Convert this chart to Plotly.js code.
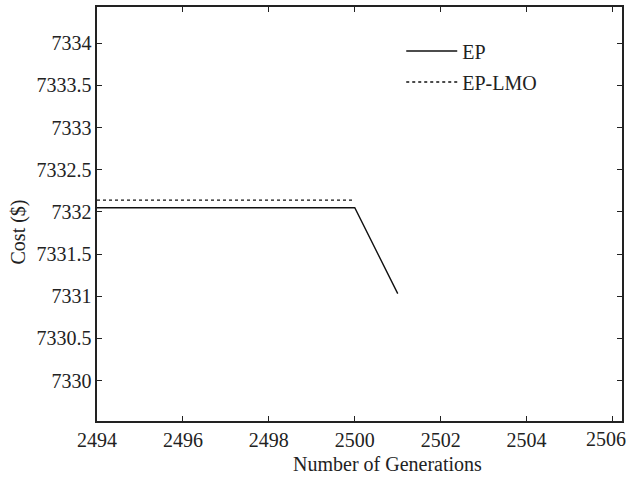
<!DOCTYPE html>
<html>
<head>
<meta charset="utf-8">
<script src="https://cdn.plot.ly/plotly-3.0.1.min.js"></script>
<style>html,body{margin:0;padding:0;background:#fff;}#chart{width:626px;height:479px;}</style>
</head>
<body>
<div id="chart"></div>
<script>
const generationsEP = [2494, 2495, 2496, 2497, 2498, 2499, 2500, 2501];
const costEP = [7332.05, 7332.05, 7332.05, 7332.05, 7332.05, 7332.05, 7332.05, 7331.03];
const generationsLMO = [2494, 2495, 2496, 2497, 2498, 2499, 2500];
const costLMO = [7332.14, 7332.14, 7332.14, 7332.14, 7332.14, 7332.14, 7332.14];
const xTicks = [2494, 2496, 2498, 2500, 2502, 2504, 2506];
const yTicks = [7330, 7330.5, 7331, 7331.5, 7332, 7332.5, 7333, 7333.5, 7334];

const font = {family: 'Liberation Serif', size: 20, color: '#222'};

const traces = [
  {x: generationsEP, y: costEP, name: 'EP', legendgroup: 'a', mode: 'lines', type: 'scatter',
   line: {color: '#111', width: 1.4}},
  {x: generationsLMO, y: costLMO, name: 'EP-LMO', legendgroup: 'b', mode: 'lines', type: 'scatter',
   line: {color: '#111', width: 1.4, dash: 'dot'}}
];

const axisCommon = {
  showgrid: false, zeroline: false, showline: true, linecolor: '#222', linewidth: 1.6,
  mirror: 'ticks', ticks: 'inside', ticklen: 5, tickwidth: 1, tickcolor: '#222',
  tickfont: font
};

const xTickText = xTicks.map((v, i) => i === xTicks.length - 1 ? '' : String(v));

const layout = {
  width: 626, height: 479,
  margin: {l: 97, r: 4, t: 7, b: 58},
  paper_bgcolor: '#fff', plot_bgcolor: '#fff',
  font: font,
  showlegend: true,
  legend: {x: 0.5795, y: 0.941, xanchor: 'left', yanchor: 'top', bgcolor: 'rgba(0,0,0,0)',
           font: font, itemwidth: 51, tracegroupgap: 2},
  xaxis: Object.assign({}, axisCommon, {
    range: [2494, 2506.22], tickvals: xTicks, ticktext: xTickText
  }),
  yaxis: Object.assign({}, axisCommon, {
    range: [7329.52, 7334.43], tickvals: yTicks, ticktext: yTicks.map(String)
  }),
  annotations: [
    {text: String(xTicks[xTicks.length - 1]), xref: 'x', yref: 'paper', x: xTicks[xTicks.length - 1], y: 0,
     xanchor: 'center', yanchor: 'top', xshift: -7, yshift: -5, showarrow: false, font: font},
    {text: 'Number of Generations', xref: 'paper', yref: 'paper', x: 0.554, y: -0.104,
     xanchor: 'center', yanchor: 'middle', showarrow: false, font: font},
    {text: 'Cost ($)', xref: 'paper', yref: 'paper', x: -0.150, y: 0.456, textangle: -90,
     xanchor: 'center', yanchor: 'middle', showarrow: false, font: font}
  ]
};

Plotly.newPlot('chart', traces, layout, {displayModeBar: false, staticPlot: true});
</script>
</body>
</html>
